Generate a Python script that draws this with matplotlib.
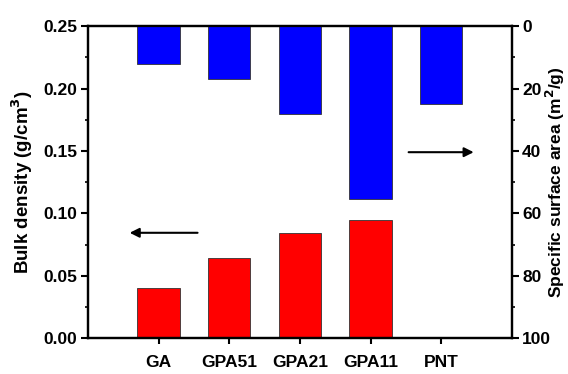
import matplotlib.pyplot as plt
from matplotlib.ticker import MultipleLocator

plt.rcParams['font.family'] = ['Liberation Sans', 'DejaVu Sans']
plt.rcParams['font.weight'] = 'bold'

samples = ['GA', 'GPA51', 'GPA21', 'GPA11', 'PNT']
density = [0.040, 0.064, 0.084, 0.095, 0.0]
surface = [12.0, 17.0, 28.2, 55.3, 25.0]

pos = list(range(1, len(samples) + 1))

fig = plt.figure(figsize=(5.68, 3.74), dpi=100)
ax = fig.add_axes([0.155, 0.096, 0.746, 0.834])
ax2 = ax.twinx()

ax.bar(pos, density, width=0.6, color='#ff0000', edgecolor='#333333', linewidth=0.6)
ax2.bar(pos, surface, width=0.6, color='#0000ff', edgecolor='#333333', linewidth=0.6)

ax.set_xlim(0, 6)
ax.set_ylim(0, 0.25)
ax2.set_ylim(100, 0)

ax.set_xticks(pos)
ax.set_xticklabels(samples)
ax.yaxis.set_major_locator(MultipleLocator(0.05))
ax.yaxis.set_minor_locator(MultipleLocator(0.025))
ax.yaxis.set_major_formatter(plt.FormatStrFormatter('%.2f'))
ax2.yaxis.set_major_locator(MultipleLocator(20))
ax2.yaxis.set_minor_locator(MultipleLocator(10))

for a in (ax, ax2):
    for s in a.spines.values():
        s.set_linewidth(1.6)
    a.tick_params(which='major', direction='out', length=5, width=1.5, labelsize=12.5, pad=2.5)
    a.tick_params(which='minor', direction='out', length=2.5, width=1.2)
ax.tick_params(axis='x', length=4, pad=8)

ax.set_ylabel('Bulk density (g/cm$^\\mathbf{3}$)', fontsize=13.5, fontweight='bold', labelpad=6)
ax2.set_ylabel('Specific surface area (m$^\\mathbf{2}$/g)', fontsize=12.5, fontweight='bold')
ax2.yaxis.set_label_coords(1.075, 0.5)

# arrows pointing to the matching axis
ax.annotate('', xy=(0.55, 0.0844), xytext=(1.59, 0.0844),
            arrowprops=dict(arrowstyle='-|>', color='black', lw=1.5, mutation_scale=14))
ax.annotate('', xy=(5.5, 0.149), xytext=(4.5, 0.149),
            arrowprops=dict(arrowstyle='-|>', color='black', lw=1.5, mutation_scale=14))

fig.savefig('out.png', dpi=100)
